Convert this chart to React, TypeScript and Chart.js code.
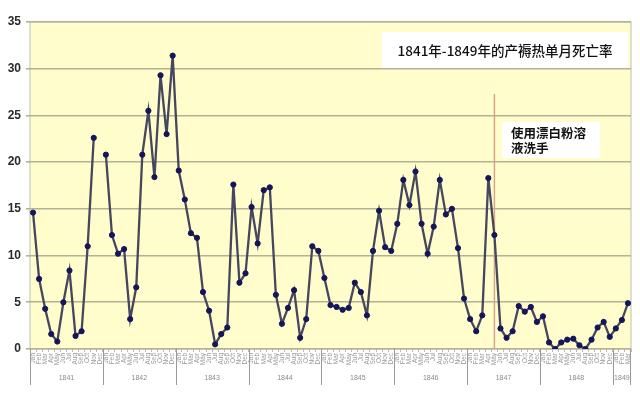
import React, { useEffect, useRef } from "react";
import { Chart, registerables } from "chart.js";

Chart.register(...registerables);

const years = ["1841", "1842", "1843", "1844", "1845", "1846", "1847", "1848", "1849"];
const monthNames = ["Jan", "Feb", "Mar", "Apr", "May", "Jun", "Jul", "Aug", "Sep", "Oct", "Nov", "Dec"];

// monthly puerperal fever death rate (%), Dec 1841 missing
const rate1841 = [14.6, 7.5, 4.3, 1.6, 0.8, 5.0, 8.4, 1.4, 1.9, 11.0, 22.6, null];
const rate1842 = [20.8, 12.2, 10.2, 10.7, 3.2, 6.6, 20.8, 25.5, 18.4, 29.3, 23.0, 31.4];
const rate1843 = [19.1, 16.0, 12.4, 11.9, 6.1, 4.1, 0.5, 1.6, 2.3, 17.6, 7.1, 8.1];
const rate1844 = [15.2, 11.3, 17.0, 17.3, 5.8, 2.7, 4.4, 6.3, 1.2, 3.2, 11.0, 10.5];
const rate1845 = [7.6, 4.7, 4.5, 4.2, 4.4, 7.1, 6.1, 3.6, 10.5, 14.8, 10.9, 10.5];
const rate1846 = [13.4, 18.1, 15.4, 19.0, 13.4, 10.2, 13.1, 18.1, 14.4, 15.0, 10.8, 5.4];
const rate1847 = [3.2, 1.9, 3.6, 18.3, 12.2, 2.2, 1.2, 1.9, 4.6, 4.0, 4.5, 2.9];
const rate1848 = [3.5, 0.7, 0.0, 0.7, 1.0, 1.1, 0.4, 0.0, 1.0, 2.3, 2.9, 1.3];
const rate1849 = [2.2, 3.1, 4.9];

const yTicks = [0, 5, 10, 15, 20, 25, 30, 35];
const titleText = "1841年-1849年的产褥热单月死亡率";
const noteLines = ["使用漂白粉溶", "液洗手"];
const handwashIndex = 76; // May 1847

const rateSeries = [rate1841, rate1842, rate1843, rate1844, rate1845, rate1846, rate1847, rate1848, rate1849];
const categories: string[] = [];
rateSeries.forEach((arr) => {
  arr.forEach((_, mi) => {
    categories.push(monthNames[mi]);
  });
});
const values = rateSeries.flat();

const bgPlugin = {
  id: "bgPlugin",
  beforeDraw(chart: any) {
    const { ctx, chartArea } = chart;
    const { left, top, right, bottom } = chartArea;
    ctx.save();
    ctx.fillStyle = "#fefdcb";
    ctx.fillRect(left, top, right - left, bottom - top);
    ctx.strokeStyle = "#d4d4c4";
    ctx.lineWidth = 1.5;
    ctx.strokeRect(left, top, right - left, bottom - top);
    ctx.restore();
  },
  beforeDatasetsDraw(chart: any) {
    const { ctx, chartArea } = chart;
    const xs = chart.scales.x;
    const ys = chart.scales.y;
    ctx.save();
    const vx = xs.getPixelForValue(handwashIndex);
    ctx.strokeStyle = "#d8a48e";
    ctx.lineWidth = 1.5;
    ctx.beginPath();
    ctx.moveTo(vx, ys.getPixelForValue(27.3));
    ctx.lineTo(vx, chartArea.bottom);
    ctx.stroke();
    ctx.fillStyle = "#ffffff";
    ctx.fillRect(382, 32, 246, 36);
    ctx.fillStyle = "#111111";
    ctx.font = "500 13.5px 'Noto Sans CJK SC', sans-serif";
    ctx.textAlign = "center";
    ctx.textBaseline = "middle";
    ctx.fillText(titleText, 505, 51);
    ctx.fillStyle = "#ffffff";
    ctx.fillRect(502, 122, 98, 36);
    ctx.fillStyle = "#111111";
    ctx.font = "bold 12.5px 'Noto Sans CJK SC', sans-serif";
    ctx.textAlign = "left";
    ctx.fillText(noteLines[0], 511, 133);
    ctx.fillText(noteLines[1], 511, 148);
    ctx.restore();
  },
  afterDraw(chart: any) {
    const { ctx, chartArea } = chart;
    const xs = chart.scales.x;
    const step = xs.getPixelForValue(1) - xs.getPixelForValue(0);
    ctx.save();
    ctx.strokeStyle = "#9a9a9a";
    ctx.lineWidth = 1;
    ctx.fillStyle = "#8a8a8a";
    ctx.font = "7px 'Liberation Sans', Arial, sans-serif";
    ctx.textAlign = "center";
    ctx.textBaseline = "middle";
    let start = 0;
    rateSeries.forEach((arr, yi) => {
      const x0 = xs.getPixelForValue(start) - step / 2;
      const x1 = xs.getPixelForValue(start + arr.length - 1) + step / 2;
      ctx.beginPath();
      ctx.moveTo(Math.round(x0) + 0.5, chartArea.bottom);
      ctx.lineTo(Math.round(x0) + 0.5, chartArea.bottom + 36);
      ctx.stroke();
      if (yi === rateSeries.length - 1) {
        ctx.beginPath();
        ctx.moveTo(Math.round(x1) - 0.5, chartArea.bottom);
        ctx.lineTo(Math.round(x1) - 0.5, chartArea.bottom + 36);
        ctx.stroke();
      }
      ctx.fillText(years[yi], (x0 + x1) / 2, chartArea.bottom + 29);
      start += arr.length;
    });
    ctx.restore();
  },
};

export default function App() {
  const canvasRef = useRef<HTMLCanvasElement | null>(null);

  useEffect(() => {
    document.body.style.margin = "0";
    const canvas = canvasRef.current;
    if (!canvas) return;
    const chart = new Chart(canvas, {
      type: "line",
      data: {
        labels: categories,
        datasets: [
          {
            data: values,
            borderColor: "#46465e",
            borderWidth: 2.3,
            pointStyle: "circle",
            pointRadius: 2.6,
            pointBackgroundColor: "#15155a",
            pointBorderColor: "#15155a",
            pointBorderWidth: 1,
            tension: 0,
            spanGaps: false,
          },
        ],
      },
      options: {
        animation: false,
        responsive: false,
        maintainAspectRatio: false,
        layout: { padding: { top: 22, right: 9, left: 0, bottom: 0 } },
        plugins: { legend: { display: false }, tooltip: { enabled: false } },
        scales: {
          x: {
            type: "category",
            offset: true,
            border: { display: false },
            grid: {
              display: true,
              drawOnChartArea: false,
              offset: true,
              tickLength: 3,
              color: "#bdbdbd",
            },
            ticks: {
              autoSkip: false,
              maxRotation: 90,
              minRotation: 90,
              padding: 1,
              color: "#999999",
              font: { size: 6.5, family: "'Liberation Sans', Arial, sans-serif" },
            },
            afterFit: (scale: any) => {
              scale.height = 44;
            },
          },
          y: {
            min: 0,
            max: 35,
            border: { display: false },
            afterBuildTicks: (scale: any) => {
              scale.ticks = yTicks.map((v) => ({ value: v }));
            },
            grid: {
              color: "#b2b296",
              lineWidth: 1.6,
              tickLength: 4,
            },
            ticks: {
              padding: 5,
              color: "#2a2a2a",
              font: { size: 12, weight: "bold", family: "'Liberation Sans', Arial, sans-serif" },
            },
            afterFit: (scale: any) => {
              scale.width = 30;
            },
          },
        },
      },
      plugins: [bgPlugin],
    } as any);
    return () => chart.destroy();
  }, []);

  return (
    <div style={{ width: 640, height: 393, background: "#ffffff" }}>
      <canvas ref={canvasRef} width={640} height={393} style={{ display: "block" }} />
    </div>
  );
}
